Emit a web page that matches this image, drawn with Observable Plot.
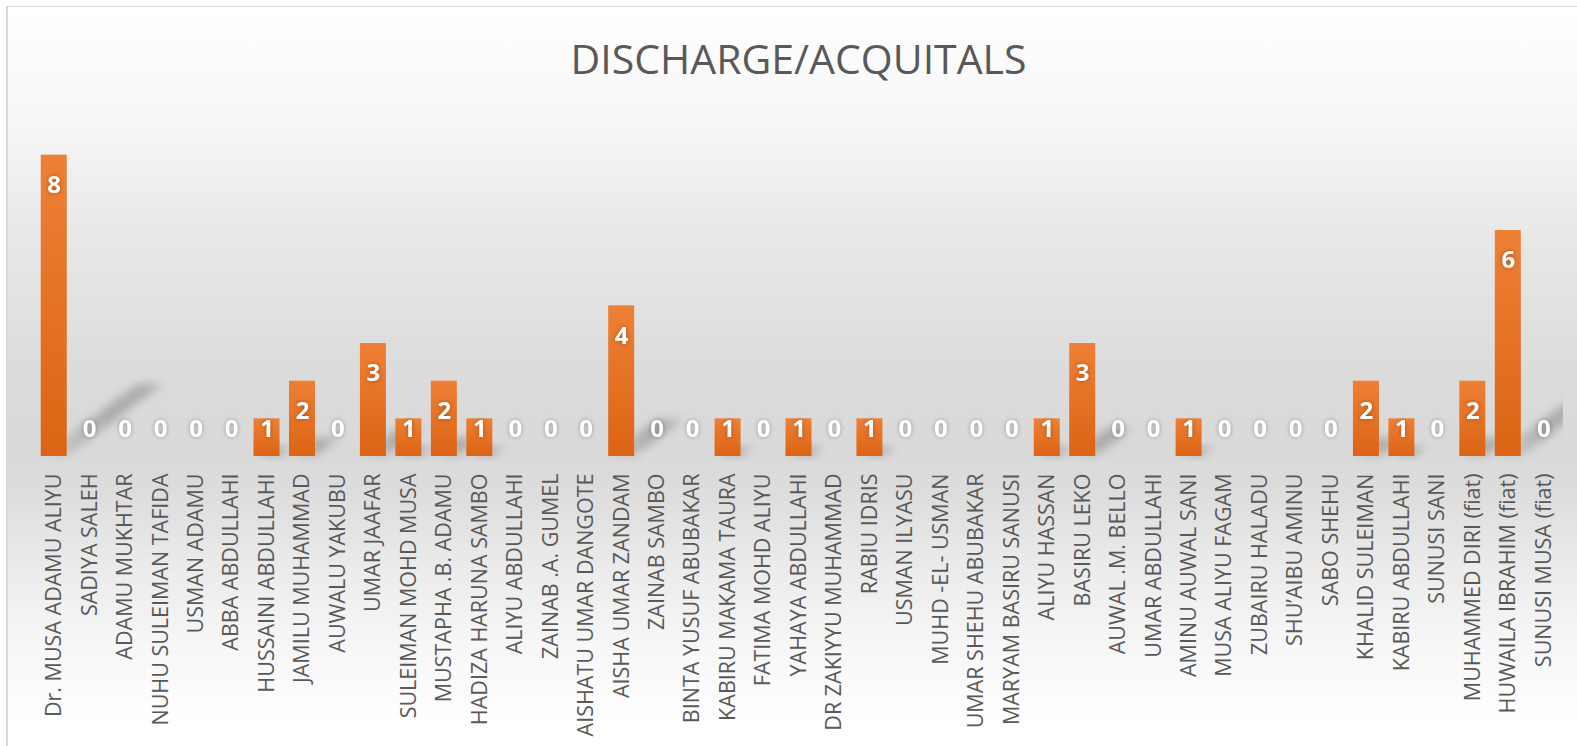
<!DOCTYPE html>
<html>
<head>
<meta charset="utf-8">
<script src="https://cdn.jsdelivr.net/npm/d3@7"></script>
<script src="https://cdn.jsdelivr.net/npm/@observablehq/plot@0.6"></script>
<style>
  html, body { margin: 0; padding: 0; width: 1577px; height: 746px; overflow: hidden; background: #fff; }
  #frame {
    position: absolute; left: 6px; top: 6px; width: 1600px; height: 760px;
    border-left: 2px solid #d9d9d9; border-top: 1px solid #d9d9d9;
    background: linear-gradient(to bottom, #ffffff 0px, #f7f7f7 110px, #e8e8e8 230px, #dcdcdc 360px, #d9d9d9 440px, #dcdcdc 480px, #ebebeb 560px, #f7f7f7 640px, #ffffff 720px);
  }
  #title {
    position: absolute; left: 0; top: 30px; width: 1597px; text-align: center;
    font-family: "Open Sans", sans-serif; font-size: 41px; color: #595959; font-weight: 400;
    line-height: 56px;
  }
  #chart { position: absolute; left: 0; top: 0; }
  .vlabels text { filter: drop-shadow(0px 0px 2px rgba(0,0,0,0.3)); }
</style>
</head>
<body>
<div id="frame"></div>
<div id="title">DISCHARGE/ACQUITALS</div>
<div id="chart"></div>
<script>
const names = [
  "Dr. MUSA ADAMU ALIYU", "SADIYA SALEH", "ADAMU MUKHTAR", "NUHU SULEIMAN TAFIDA", "USMAN ADAMU",
  "ABBA ABDULLAHI", "HUSSAINI ABDULLAHI", "JAMILU MUHAMMAD", "AUWALU YAKUBU", "UMAR JAAFAR",
  "SULEIMAN MOHD MUSA", "MUSTAPHA .B. ADAMU", "HADIZA HARUNA SAMBO", "ALIYU ABDULLAHI", "ZAINAB .A. GUMEL",
  "AISHATU UMAR DANGOTE", "AISHA UMAR ZANDAM", "ZAINAB SAMBO", "BINTA YUSUF ABUBAKAR", "KABIRU MAKAMA TAURA",
  "FATIMA MOHD ALIYU", "YAHAYA ABDULLAHI", "DR ZAKIYYU MUHAMMAD", "RABIU IDRIS", "USMAN ILYASU",
  "MUHD -EL- USMAN", "UMAR SHEHU ABUBAKAR", "MARYAM BASIRU SANUSI", "ALIYU HASSAN", "BASIRU LEKO",
  "AUWAL .M. BELLO", "UMAR ABDULLAHI", "AMINU AUWAL SANI", "MUSA ALIYU FAGAM", "ZUBAIRU HALADU",
  "SHU\u2019AIBU AMINU", "SABO SHEHU", "KHALID SULEIMAN", "KABIRU ABDULLAHI", "SUNUSI SANI",
  "MUHAMMED DIRI (fiat)", "HUWAILA IBRAHIM (fiat)", "SUNUSI MUSA (fiat)"
];
const values = [
  8, 0, 0, 0, 0,
  0, 1, 2, 0, 3,
  1, 2, 1, 0, 0,
  0, 4, 0, 0, 1,
  0, 1, 0, 1, 0,
  0, 0, 0, 1, 3,
  0, 0, 1, 0, 0,
  0, 0, 2, 1, 0,
  2, 6, 0
];
const yDomain = [0, 9];

const data = names.map((name, i) => ({name, value: values[i]}));
const NS = "http://www.w3.org/2000/svg";

const defs = () => {
  const d = document.createElementNS(NS, "defs");
  d.innerHTML = `<linearGradient id="barGrad" x1="0" y1="0" x2="0" y2="1">
      <stop offset="0%" stop-color="#EE8035"/>
      <stop offset="100%" stop-color="#DC6414"/>
    </linearGradient>
    <linearGradient id="shadowGrad" x1="0" y1="0" x2="1" y2="0">
      <stop offset="0%" stop-color="#000" stop-opacity="0.04"/>
      <stop offset="55%" stop-color="#000" stop-opacity="0.22"/>
      <stop offset="100%" stop-color="#000" stop-opacity="0.2"/>
    </linearGradient>
    <filter id="shadowBlur" x="-50%" y="-50%" width="200%" height="200%">
      <feGaussianBlur stdDeviation="5"/>
    </filter>
    <clipPath id="plotClip"><rect x="0" y="0" width="1563" height="746"/></clipPath>`;
  return d;
};

// Perspective shadow behind each bar, projected from the bar's base via the scales
const shadows = (index, scales) => {
  const g = document.createElementNS(NS, "g");
  g.setAttribute("clip-path", "url(#plotClip)");
  const x = scales.x, y = scales.y;
  const bw = typeof x.bandwidth === "function" ? x.bandwidth() : 26;
  const y0 = y(0);
  data.forEach(d => {
    if (!(d.value > 0)) return;
    const h = y0 - y(d.value);
    const len = 0.4 * h;
    const dx = 0.8 * len, dy = -0.6 * len;
    const x0 = x(d.name), x1 = x0 + bw;
    const p = document.createElementNS(NS, "polygon");
    p.setAttribute("points", `${x0},${y0} ${x1},${y0} ${x1 + dx},${y0 + dy} ${x0 + dx},${y0 + dy}`);
    p.setAttribute("fill", "url(#shadowGrad)");
    p.setAttribute("filter", "url(#shadowBlur)");
    g.appendChild(p);
  });
  return g;
};

const chart = Plot.plot({
  width: 1577,
  height: 746,
  marginLeft: 36,
  marginRight: 16,
  marginTop: 117,
  marginBottom: 290,
  style: {background: "transparent", color: "#595959", fontFamily: "'Open Sans', sans-serif", overflow: "visible"},
  x: {domain: names, paddingInner: 0.267, paddingOuter: 0.1335, round: false, label: null},
  y: {domain: yDomain, axis: null},
  marks: [
    defs,
    shadows,
    Plot.barY(data, {x: "name", y: "value", fill: "url(#barGrad)"}),
    Plot.text(data, {
      x: "name",
      y: d => Math.max(d.value - 0.8, 0.72),
      text: d => String(d.value),
      fill: "white",
      fontWeight: "bold",
      fontSize: 24,
      className: "vlabels"
    }),
    Plot.axisX({tickRotate: -90, tickSize: 0, tickPadding: 17, fontSize: 21.5, label: null, fill: "#595959"})
  ]
});
document.getElementById("chart").appendChild(chart);
</script>
</body>
</html>
